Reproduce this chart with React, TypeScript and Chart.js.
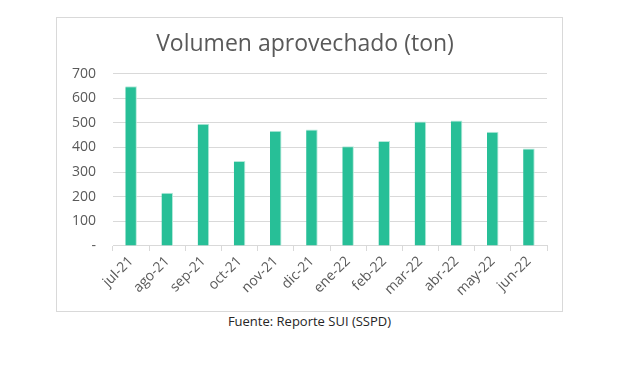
import React, { useEffect, useRef } from "react";
import { Chart, registerables } from "chart.js";

Chart.register(...registerables);

const categories = ["jul-21", "ago-21", "sep-21", "oct-21", "nov-21", "dic-21", "ene-22", "feb-22", "mar-22", "abr-22", "may-22", "jun-22"];
const volumen = [649, 216, 496, 345, 468, 473, 405, 426, 506, 510, 464, 396];
const yTicks = [0, 100, 200, 300, 400, 500, 600, 700];
const titleText = "Volumen aprovechado (ton)";
const captionText = "Fuente: Reporte SUI (SSPD)";

const FONT = "'Open Sans', sans-serif";

export default function App() {
  const ref = useRef<HTMLCanvasElement | null>(null);
  useEffect(() => {
    if (!ref.current) return;
    const chart = new Chart(ref.current, {
      type: "bar",
      data: {
        labels: categories,
        datasets: [
          {
            data: volumen,
            backgroundColor: "#27BF97",
            borderColor: "#B5E9DA",
            borderWidth: { top: 1, right: 1, left: 0, bottom: 0 },
            borderSkipped: "bottom",
            categoryPercentage: 1,
            barPercentage: 0.32,
          },
        ],
      },
      options: {
        animation: false,
        responsive: false,
        maintainAspectRatio: false,
        layout: { padding: { left: 6, right: 15, top: 0, bottom: 10 } },
        plugins: {
          legend: { display: false },
          tooltip: { enabled: false },
          title: {
            display: true,
            text: titleText,
            color: "#595959",
            font: { family: FONT, size: 23, weight: "normal" },
            padding: { top: 13, bottom: 15 },
          },
        },
        scales: {
          x: {
            grid: { display: true, drawOnChartArea: false, drawTicks: true, tickLength: 5, color: "#d9d9d9", offset: true },
            border: { display: true, color: "#d9d9d9" },
            ticks: {
              color: "#595959",
              font: { family: FONT, size: 14 },
              maxRotation: 45,
              minRotation: 45,
              padding: 2,
            },
          },
          y: {
            min: 0,
            max: 700,
            afterBuildTicks: (scale: any) => {
              scale.ticks = yTicks.map((v) => ({ value: v }));
            },
            afterFit: (scale: any) => {
              scale.width = 50;
            },
            grid: { color: "#d9d9d9", drawTicks: false },
            border: { display: false },
            ticks: {
              color: "#595959",
              font: { family: FONT, size: 14 },
              padding: 17,
              callback: (v: any) => (Number(v) === 0 ? "-" : String(v)),
            },
          },
        },
      },
    });
    return () => chart.destroy();
  }, []);
  return (
    <div style={{ position: "relative", width: 610, height: 340 }}>
      <div
        style={{
          position: "absolute",
          left: 48,
          top: 9,
          width: 505,
          height: 293,
          border: "1px solid #d9d9d9",
        }}
      >
        <canvas ref={ref} width={505} height={293} style={{ display: "block" }} />
      </div>
      <div
        style={{
          position: "absolute",
          left: 48,
          top: 304,
          width: 507,
          textAlign: "center",
          fontFamily: FONT,
          fontSize: 13,
          color: "#262626",
        }}
      >
        {captionText}
      </div>
    </div>
  );
}
